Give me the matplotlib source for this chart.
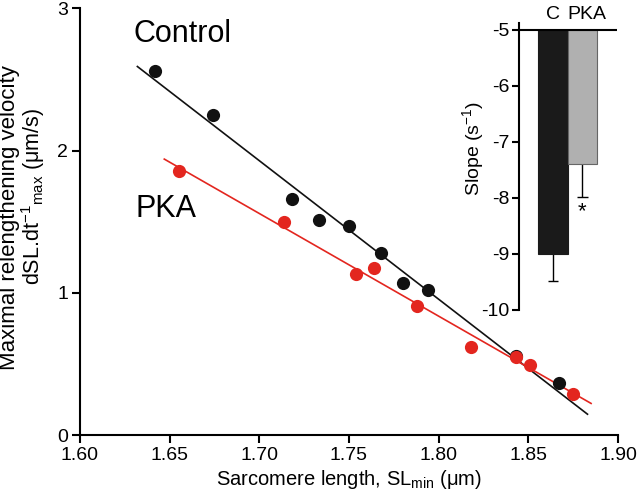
import matplotlib
matplotlib.use('Agg')
import matplotlib.pyplot as plt
import numpy as np

plt.rcParams['font.family'] = ['Liberation Sans', 'DejaVu Sans']
plt.rcParams['mathtext.fontset'] = 'custom'
plt.rcParams['mathtext.rm'] = 'Liberation Sans'
plt.rcParams['mathtext.it'] = 'Liberation Sans:italic'

# scatter data
ctrlSL = np.array([1.642, 1.674, 1.718, 1.733, 1.750, 1.768, 1.780, 1.794, 1.843, 1.867])
ctrlVel = np.array([2.56, 2.25, 1.66, 1.51, 1.47, 1.28, 1.07, 1.02, 0.556, 0.368])
pkaSL = np.array([1.655, 1.714, 1.754, 1.764, 1.788, 1.818, 1.843, 1.851, 1.875])
pkaVel = np.array([1.855, 1.495, 1.134, 1.174, 0.904, 0.622, 0.55, 0.493, 0.289])

# x-range covered by the regression lines
ctrlRange = [1.632, 1.883]
pkaRange = [1.647, 1.885]

# inset bar chart
groups = ['C', 'PKA']
slopes = [-9.0, -7.4]
slopeErr = [0.48, 0.58]

red = '#e3261f'

fig = plt.figure(figsize=(6.4, 4.94), dpi=100)
ax = fig.add_axes([0.125, 0.1194, 0.8406, 0.8638])

for xs, ys, rng, clr in [(ctrlSL, ctrlVel, ctrlRange, '#111111'), (pkaSL, pkaVel, pkaRange, red)]:
    m, b = np.polyfit(xs, ys, 1)
    xl = np.array(rng)
    ax.plot(xl, m * xl + b, color=clr, lw=1.2, zorder=2)
    ax.plot(xs, ys, 'o', ms=9.5, color=clr, mec='none', zorder=3)

ax.set_xlim(1.60, 1.90)
ax.set_ylim(0, 3)
ax.set_xticks(np.arange(1.60, 1.901, 0.05))
ax.set_xticklabels(['%.2f' % v for v in np.arange(1.60, 1.901, 0.05)])
ax.set_yticks([0, 1, 2, 3])
for s in ['top', 'right']:
    ax.spines[s].set_visible(False)
for s in ['left', 'bottom']:
    ax.spines[s].set_linewidth(1.5)
ax.tick_params(direction='out', length=5.5, width=1.5, labelsize=14, pad=3)
ax.set_xlabel('Sarcomere length, SL$_{\\mathrm{min}}$ (\u03bcm)', fontsize=14.5, labelpad=3)
# two-line y label, each line placed on its own
fig.text(10 / 640, 1 - 218 / 494, 'Maximal relengthening velocity', rotation=90,
         ha='center', va='center', fontsize=16)
fig.text(33 / 640, 1 - 196 / 494, 'dSL.dt$^{-1}$$_{\\mathrm{max}}$ (\u03bcm/s)', rotation=90,
         ha='center', va='center', fontsize=15.5)
ax.text(1.630, 2.76, 'Control', fontsize=22)
ax.text(1.631, 1.535, 'PKA', fontsize=22)

# inset
ax2 = fig.add_axes([0.811, 0.3725, 0.153, 0.5804])
xpos = np.arange(len(groups))
ax2.bar(xpos, np.array(slopes) + 5, bottom=-5, width=1.0,
        color=['#1a1a1a', '#b0b0b0'], edgecolor=['#1a1a1a', '#666666'], lw=0.8, zorder=2)
for xp, v, e in zip(xpos, slopes, slopeErr):
    ax2.vlines(xp, v - e, v, color='black', lw=1.0, zorder=1)
    ax2.hlines(v - e, xp - 0.18, xp + 0.18, color='black', lw=1.0, zorder=1)
ax2.text(xpos[1], -8.05, '*', ha='center', va='top', fontsize=16)
ax2.axhline(-5, color='black', lw=1.5, zorder=3)
ax2.set_xlim(-1.16, 2.18)
ax2.set_ylim(-10, -4.88)
ax2.set_yticks([-10, -9, -8, -7, -6, -5])
ax2.set_yticklabels(['-10', '-9', '-8', '-7', '-6', '-5'])
ax2.set_xticks([])
for xp, g in zip([0, 1.15], groups):
    ax2.text(xp, 1.0, g, transform=ax2.get_xaxis_transform(), ha='center', va='bottom', fontsize=14)
ax2.tick_params(axis='y', direction='out', length=5, width=1.5, labelsize=14, pad=2)
for s in ['top', 'right', 'bottom']:
    ax2.spines[s].set_visible(False)
ax2.spines['left'].set_linewidth(1.5)
fig.text(473 / 640, 1 - 148 / 494, 'Slope (s$^{-1}$)', rotation=90,
         ha='center', va='center', fontsize=14)
ax2.patch.set_alpha(0)

fig.savefig('out.png', dpi=100)
